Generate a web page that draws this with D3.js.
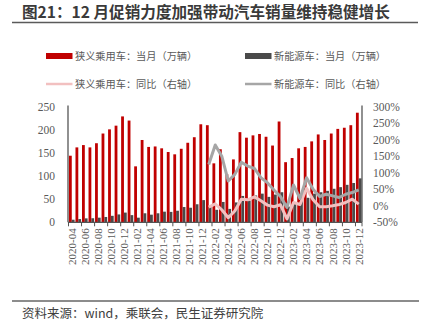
<!DOCTYPE html>
<html><head><meta charset="utf-8">
<script src="https://cdn.jsdelivr.net/npm/d3@7/dist/d3.min.js"></script>
<style>
html,body{margin:0;padding:0;background:#fff;}
svg{display:block;}
</style></head>
<body>
<svg id="chart" width="425" height="329"></svg>
<script>
const months = ["2020-04","2020-05","2020-06","2020-07","2020-08","2020-09","2020-10","2020-11","2020-12",
"2021-01","2021-02","2021-03","2021-04","2021-05","2021-06","2021-07","2021-08","2021-09","2021-10","2021-11","2021-12",
"2022-01","2022-02","2022-03","2022-04","2022-05","2022-06","2022-07","2022-08","2022-09","2022-10","2022-11","2022-12",
"2023-01","2023-02","2023-03","2023-04","2023-05","2023-06","2023-07","2023-08","2023-09","2023-10","2023-11","2023-12"];
const passengerMonthly = [144,162,167,162,171,192,201,209,229,
220,121,178,163,164,160,152,147,159,172,184,212,
210,127.5,158,104,136,195,183,188,191,185,166,218,
130,139,160,163,175,190,178,192,202,204.5,210,237];
const nevMonthly = [5.6,7,8.5,8.8,10,11.5,14,17,21,
15.5,10,19.5,16.5,19.5,23,22.5,25,33,31.5,39,48,
34,27,44,29,43,57,47,58,62,55,60,65,
34,43,57,53,62,65,68,72.5,76,81,85,95];
const yoyMonths = months.slice(21);
const passengerYoY = [-4,6,-12,-36,-16,20,18,27,15,2,-3,3,-40,10,4,53,18,-3,-3,0,4,10,20,5];
const nevYoY = [125,184,150,75,95,132,120,113,85,70,48,28,-5,63,22,85,50,28,35,30,25,35,40,48];
const leftTicks = [0,50,100,150,200,250];
const rightTicks = [-50,0,50,100,150,200,250,300];
const xLabels = months.filter((m,i)=>i%2===0);

const svg = d3.select("#chart");
const cjk = "'Noto Sans CJK SC','Noto Sans',sans-serif";
const serif = "'Liberation Serif','DejaVu Serif',serif";

// Title
svg.append("text").attr("x",22).attr("y",18).attr("font-family",cjk).attr("font-weight","bold")
  .attr("font-size",15.6).attr("fill","#3a3a3a").text("图21：12 月促销力度加强带动汽车销量维持稳健增长");
svg.append("line").attr("x1",12).attr("x2",418).attr("y1",22.5).attr("y2",22.5).attr("stroke","#5a5a5a").attr("stroke-width",1.5);

// Legend
const legend = [
  {x:46,y:56,type:"rect",color:"#c00000",label:"狭义乘用车：当月（万辆）"},
  {x:245,y:56,type:"rect",color:"#4a4a4a",label:"新能源车：当月（万辆）"},
  {x:46,y:84,type:"line",color:"#f2c0c0",label:"狭义乘用车：同比（右轴）"},
  {x:245,y:84,type:"line",color:"#a6a6a6",label:"新能源车：同比（右轴）"}
];
legend.forEach(d=>{
  if(d.type==="rect") svg.append("rect").attr("x",d.x).attr("y",d.y-3).attr("width",26.5).attr("height",6).attr("fill",d.color);
  else svg.append("line").attr("x1",d.x).attr("x2",d.x+26.5).attr("y1",d.y).attr("y2",d.y).attr("stroke",d.color).attr("stroke-width",2.5);
  svg.append("text").attr("x",d.x+29).attr("y",d.y).attr("dy","0.36em").attr("font-family",cjk)
    .attr("font-size",10.2).attr("fill","#595959").text(d.label);
});

// Scales
const x = d3.scaleBand().domain(months).range([68.5,362]).paddingInner(0.14).paddingOuter(0.07);
const yL = d3.scaleLinear().domain([0,250]).range([222.3,106.7]);
const yR = d3.scaleLinear().domain([-50,300]).range([222.3,106.7]);
const bw = x.bandwidth()/2;

// Bars
svg.append("g").selectAll("rect").data(months).join("rect")
  .attr("x",d=>x(d)).attr("width",bw).attr("y",(d,i)=>yL(passengerMonthly[i]))
  .attr("height",(d,i)=>yL(0)-yL(passengerMonthly[i])).attr("fill","#c00000");
svg.append("g").selectAll("rect").data(months).join("rect")
  .attr("x",d=>x(d)+bw).attr("width",bw).attr("y",(d,i)=>yL(nevMonthly[i]))
  .attr("height",(d,i)=>yL(0)-yL(nevMonthly[i])).attr("fill","#4a4a4a");

// Lines
const line = d3.line().x(d=>x(d[0])+x.bandwidth()/2).y(d=>yR(d[1]));
svg.append("path").datum(yoyMonths.map((m,i)=>[m,passengerYoY[i]])).attr("d",line)
  .attr("fill","none").attr("stroke","#f2c0c0").attr("stroke-width",3).attr("stroke-linejoin","round");
svg.append("path").datum(yoyMonths.map((m,i)=>[m,nevYoY[i]])).attr("d",line)
  .attr("fill","none").attr("stroke","#a6a6a6").attr("stroke-width",3).attr("stroke-linejoin","round");

// Axes
const axL = svg.append("g").attr("transform","translate(68,0)")
  .call(d3.axisLeft(yL).tickValues(leftTicks).tickSize(0).tickPadding(13));
axL.select(".domain").attr("stroke","#555").attr("stroke-width",1.3).attr("d","M0,105.5V222.3");
axL.selectAll("text").attr("font-family",serif).attr("font-size",11.5).attr("fill","#595959");

const axR = svg.append("g").attr("transform","translate(362,0)")
  .call(d3.axisRight(yR).tickValues(rightTicks).tickSize(0).tickPadding(11).tickFormat(d=>d+"%"));
axR.select(".domain").attr("stroke","#555").attr("stroke-width",1.3).attr("d","M0,105.5V222.3");
axR.selectAll("text").attr("font-family",serif).attr("font-size",11.5).attr("fill","#595959");

const axB = svg.append("g").attr("transform","translate(0,222.3)")
  .call(d3.axisBottom(x).tickValues(xLabels).tickSize(0).tickPadding(0));
axB.select(".domain").attr("stroke","#555").attr("stroke-width",1.3).attr("d","M68,0H362");
axB.selectAll("text").attr("font-family",serif).attr("font-size",11).attr("fill","#595959")
  .attr("transform","rotate(-90)").attr("text-anchor","end").attr("x",-6).attr("y",0).attr("dy","0.35em");
// tick marks between every two months
const tickPos = months.filter((m,i)=>i%2===0).map(m=>x(m)-(x.step()-x.bandwidth())/2);
tickPos.push(x(months[months.length-1])+x.bandwidth()+(x.step()-x.bandwidth())/2);
axB.selectAll(".tk").data(tickPos).join("line").attr("class","tk")
  .attr("x1",d=>d).attr("x2",d=>d).attr("y1",0).attr("y2",4).attr("stroke","#555").attr("stroke-width",1);

// Footer
svg.append("line").attr("x1",12).attr("x2",419).attr("y1",301).attr("y2",301).attr("stroke","#666").attr("stroke-width",1.5);
svg.append("text").attr("x",22).attr("y",313).attr("dy","0.36em").attr("font-family",cjk)
  .attr("font-size",12.5).attr("fill","#404040").text("资料来源：wind，乘联会，民生证券研究院");
</script>
</body></html>
